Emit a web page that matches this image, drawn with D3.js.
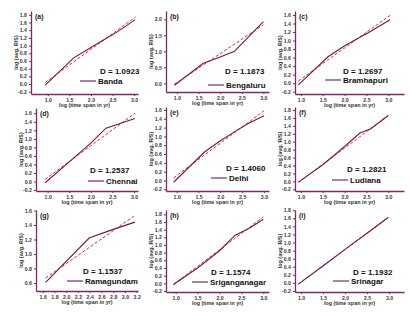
<!DOCTYPE html>
<html>
<head>
<meta charset="utf-8">
<script src="https://cdn.jsdelivr.net/npm/d3@7"></script>
<style>
  body { margin: 0; background: #fff; }
  svg { display: block; font-family: "Liberation Sans", Arial, sans-serif; }
  .axis path, .axis line { stroke: #7d2a5f; }
  .axis text { fill: #3a3a3a; font-size: 5.2px; font-weight: bold; }
</style>
</head>
<body>
<script>
// panel data
var panelTags = ["(a)", "(b)", "(c)", "(d)", "(e)", "(f)", "(g)", "(h)", "(i)"];
var cities = ["Banda", "Bengaluru", "Bramhapuri", "Chennai", "Delhi", "Ludiana", "Ramagundam", "Sriganganagar", "Srinagar"];
var dValues = ["1.0923", "1.1873", "1.2697", "1.2537", "1.4060", "1.2821", "1.1537", "1.1574", "1.1932"];

// observed log(avg R/S) vs log(time span)
var obsX = [
  [0.94, 1.6, 2.0, 2.3, 2.6, 3.02],
  [0.94, 1.6, 2.0, 2.33, 3.0],
  [0.94, 1.62, 2.0, 2.3, 2.6, 3.04],
  [0.94, 1.6, 2.0, 2.35, 3.02],
  [0.93, 1.63, 2.0, 2.35, 2.65, 3.0],
  [0.94, 1.5, 2.0, 2.35, 2.6, 3.0],
  [1.65, 2.39, 2.8, 3.17],
  [0.95, 1.5, 2.0, 2.35, 2.7, 3.0],
  [0.94, 1.5, 2.0, 2.5, 2.98]
];
var obsY = [
  [-0.03, 0.68, 0.95, 1.15, 1.35, 1.67],
  [-0.06, 0.62, 0.82, 1.0, 1.93],
  [-0.04, 0.62, 0.88, 1.05, 1.22, 1.49],
  [-0.03, 0.55, 0.9, 1.25, 1.48],
  [-0.04, 0.64, 0.9, 1.12, 1.3, 1.47],
  [-0.02, 0.42, 0.88, 1.22, 1.33, 1.66],
  [0.61, 1.22, 1.34, 1.44],
  [-0.03, 0.4, 0.85, 1.25, 1.45, 1.67],
  [-0.03, 0.42, 0.83, 1.23, 1.62]
];
// fitted line end points
var fitX = [[0.94, 3.03], [0.94, 3.0], [0.94, 3.04], [0.94, 3.02], [0.93, 3.0], [0.94, 3.0], [1.65, 3.15], [0.95, 3.0], [0.94, 2.98]];
var fitY = [[0.04, 1.74], [-0.03, 1.83], [0.05, 1.59], [0.05, 1.6], [0.06, 1.58], [-0.03, 1.66], [0.67, 1.52], [-0.03, 1.73], [-0.03, 1.62]];

// axis domains and ticks
var xDomains = [[0.61, 3.09], [0.746, 3.13], [0.863, 3.36], [0.729, 3.093], [0.755, 3.115], [0.863, 3.36], [1.486, 3.222], [0.779, 3.13], [0.864, 3.34]];
var yDomains = [[-0.26, 1.9], [-0.27, 2.26], [-0.254, 1.694], [-0.223, 1.724], [-0.239, 1.668], [-0.243, 1.876], [0.49, 1.607], [-0.226, 1.912], [-0.225, 1.805]];
var xTicksStd = [1.0, 1.5, 2.0, 2.5, 3.0];
var xTicksG = [1.6, 1.8, 2.0, 2.2, 2.4, 2.6, 2.8, 3.0, 3.2];
var yTicks16 = [-0.2, 0, 0.2, 0.4, 0.6, 0.8, 1.0, 1.2, 1.4, 1.6];
var yTicks18 = [-0.2, 0, 0.2, 0.4, 0.6, 0.8, 1.0, 1.2, 1.4, 1.6, 1.8];
var yTicksB = [0, 0.5, 1.0, 1.5, 2.0];
var yTicksG = [0.6, 0.8, 1.0, 1.2, 1.4, 1.6];

// page layout: plot box in pixels, legend positions
var layout = [
  {l: 31, r: 138, t: 11, b: 94, xt: xTicksStd, yt: yTicks18, dx: 100, dy: 74, lx: 80, ly: 81},
  {l: 166, r: 269, t: 11, b: 92, xt: xTicksStd, yt: yTicksB, dx: 225, dy: 74, lx: 208, ly: 85},
  {l: 295, r: 404, t: 11, b: 94, xt: xTicksStd, yt: yTicks16, dx: 343, dy: 74, lx: 325, ly: 80},
  {l: 36, r: 138, t: 108, b: 191, xt: xTicksStd, yt: yTicks16, dx: 90, dy: 173, lx: 88, ly: 181},
  {l: 166, r: 269, t: 107, b: 191, xt: xTicksStd, yt: yTicks16, dx: 226, dy: 171, lx: 211, ly: 178},
  {l: 295, r: 404, t: 107, b: 191, xt: xTicksStd, yt: yTicks18, dx: 347, dy: 172, lx: 332, ly: 180},
  {l: 36, r: 138, t: 210, b: 291, xt: xTicksG, yt: yTicksG, dx: 83, dy: 274, lx: 67, ly: 281},
  {l: 166, r: 269, t: 210, b: 292, xt: xTicksStd, yt: yTicks18, dx: 211, dy: 275, lx: 192, ly: 282},
  {l: 295, r: 404, t: 210, b: 292, xt: xTicksStd, yt: yTicks18, dx: 353, dy: 275, lx: 333, ly: 281}
];

var W = 410, H = 316;
var lineColor = "#6b1850", fitColor = "#e8262c";
var fmt = function(d) { return d.toFixed(1); };

var svg = d3.select("body").append("svg")
    .attr("width", W)
    .attr("height", H);

layout.forEach(function(p, i) {
  var x = d3.scaleLinear().domain(xDomains[i]).range([p.l, p.r]);
  var y = d3.scaleLinear().domain(yDomains[i]).range([p.b, p.t]);
  var g = svg.append("g");

  // axes
  g.append("g").attr("class", "axis")
    .attr("transform", "translate(0," + p.b + ")")
    .call(d3.axisBottom(x).tickValues(p.xt).tickFormat(fmt).tickSize(2).tickSizeOuter(0).tickPadding(2))
    .call(function(a) { a.select(".domain").attr("stroke-width", 1.3); });
  g.append("g").attr("class", "axis")
    .attr("transform", "translate(" + p.l + ",0)")
    .call(d3.axisLeft(y).tickValues(p.yt).tickFormat(fmt).tickSize(2).tickSizeOuter(0).tickPadding(2))
    .call(function(a) { a.select(".domain").attr("stroke-width", 1.3); });

  // axis titles
  g.append("text")
    .attr("x", (p.l + p.r) / 2).attr("y", p.b + 13)
    .attr("text-anchor", "middle")
    .style("font-size", "5.4px").style("font-weight", "bold").attr("fill", "#333")
    .text("log (time span in yr)");
  g.append("text")
    .attr("transform", "translate(" + (p.l - 13) + "," + ((p.t + p.b) / 2) + ") rotate(-90)")
    .attr("text-anchor", "middle")
    .style("font-size", "5.4px").style("font-weight", "bold").attr("fill", "#333")
    .text("log (avg. R/S)");

  // panel tag
  g.append("text")
    .attr("x", p.l + 4).attr("y", p.t + 8)
    .style("font-size", "7px").style("font-weight", "bold").attr("fill", "#222")
    .text(panelTags[i]);

  // fitted line
  var fit = fitX[i].map(function(v, k) { return [v, fitY[i][k]]; });
  g.append("path")
    .datum(fit)
    .attr("fill", "none")
    .attr("stroke", fitColor)
    .attr("stroke-width", 1)
    .attr("stroke-dasharray", "3,2")
    .attr("d", d3.line().x(function(d) { return x(d[0]); }).y(function(d) { return y(d[1]); }));

  // observed line
  var obs = obsX[i].map(function(v, k) { return [v, obsY[i][k]]; });
  g.append("path")
    .datum(obs)
    .attr("fill", "none")
    .attr("stroke", lineColor)
    .attr("stroke-width", 1.1)
    .attr("d", d3.line().x(function(d) { return x(d[0]); }).y(function(d) { return y(d[1]); }));

  // D value and legend
  g.append("text")
    .attr("x", p.dx).attr("y", p.dy)
    .style("font-size", "8px").style("font-weight", "bold").attr("fill", "#111")
    .text("D = " + dValues[i]);
  g.append("line")
    .attr("x1", p.lx).attr("x2", p.lx + 16)
    .attr("y1", p.ly).attr("y2", p.ly)
    .attr("stroke", "#7a2a6a").attr("stroke-width", 1.2);
  g.append("text")
    .attr("x", p.lx + 18).attr("y", p.ly + 3)
    .style("font-size", "8px").style("font-weight", "bold").attr("fill", "#111")
    .text(cities[i]);
});
</script>
</body>
</html>
